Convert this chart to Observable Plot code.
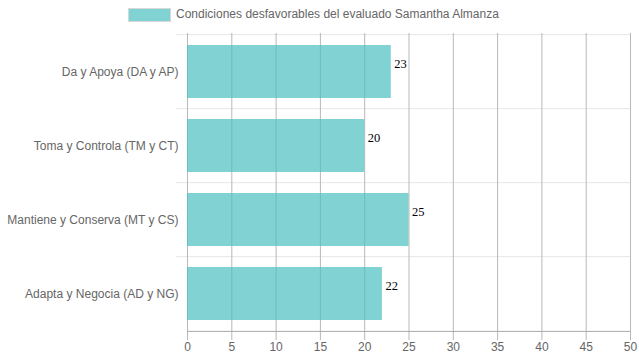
<!DOCTYPE html>
<html>
<head>
<meta charset="utf-8">
<script src="https://cdn.jsdelivr.net/npm/d3@7"></script>
<script src="https://cdn.jsdelivr.net/npm/@observablehq/plot@0.6"></script>
<style>
  body { margin: 0; background: #fff; font-family: "Liberation Sans", Arial, sans-serif; }
  #wrap { width: 639px; height: 360px; position: relative; overflow: hidden; }
  #legend { position: relative; height: 32px; }
  #legend .box { position: absolute; left: 128px; top: 8px; width: 41px; height: 12px;
    background: rgba(75,192,192,0.7); border: 1px solid #d8d8d8; }
  #legend .lbl { position: absolute; left: 176px; top: 7px; font-size: 12px; color: #666; line-height: 15px; white-space: nowrap; }
  svg { display: block; }
</style>
</head>
<body>
<div id="wrap">
  <div id="legend"><div class="box"></div><div class="lbl"></div></div>
  <div id="chart"></div>
</div>
<script>
const seriesName = "Condiciones desfavorables del evaluado Samantha Almanza";
const categories = [
  "Da y Apoya (DA y AP)",
  "Toma y Controla (TM y CT)",
  "Mantiene y Conserva (MT y CS)",
  "Adapta y Negocia (AD y NG)"
];
const values = [23, 20, 25, 22];
const xTicks = [0, 5, 10, 15, 20, 25, 30, 35, 40, 45, 50];

document.querySelector("#legend .lbl").textContent = seriesName;

const data = categories.map((c, i) => ({cat: c, value: values[i]}));

const height = 328, marginTop = 1, marginBottom = 28;
const step = (height - marginTop - marginBottom) / categories.length;

const chart = Plot.plot({
  width: 639,
  height,
  marginTop,
  marginBottom,
  marginLeft: 187,
  marginRight: 9,
  style: {fontFamily: "Liberation Sans, Arial, sans-serif", fontSize: "12px", background: "white"},
  x: {domain: [0, 50], axis: null, label: null},
  y: {domain: categories, axis: null, label: null, paddingInner: 0.28, paddingOuter: 0.14},
  marks: [
    Plot.ruleY(categories, {y: d => d, dy: -step / 2, stroke: "#e6e6e6", insetLeft: -11}),
    Plot.ruleX(xTicks, {stroke: "#b8b8b8", insetBottom: -8}),
    Plot.ruleY([categories[categories.length - 1]], {y: d => d, dy: step / 2, stroke: "#a8a8a8"}),
    Plot.barX(data, {x: "value", y: "cat", fill: "rgb(75,192,192)", fillOpacity: 0.7}),
    Plot.text(data, {x: "value", y: "cat", text: d => String(d.value), textAnchor: "start", dx: 3, dy: -8,
      fontFamily: "Liberation Serif, Times New Roman, serif", fontSize: 12.5, fill: "#000"}),
    Plot.axisX(xTicks, {tickSize: 0, tickPadding: 10, fill: "#666", fontSize: 12, label: null}),
    Plot.axisY(categories, {tickSize: 0, tickPadding: 9, fill: "#666", fontSize: 12, label: null})
  ]
});
document.getElementById("chart").appendChild(chart);
</script>
</body>
</html>
